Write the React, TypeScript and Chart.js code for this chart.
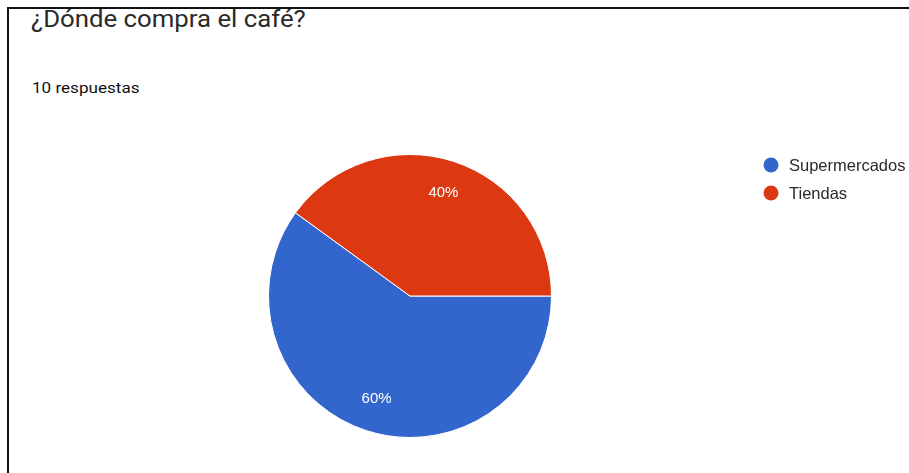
import React, { useEffect, useRef } from "react";
import { Chart, registerables } from "chart.js";

Chart.register(...registerables);

// Survey answers
const categories: string[] = ["Supermercados", "Tiendas"];
const shares: number[] = [60, 40];
const sliceColors: string[] = ["#3366cc", "#dc3912"];
const question = "¿Dónde compra el café?";
const responseCount = "10 respuestas";

const WIDTH = 909;
const HEIGHT = 473;

// Percent labels placed inside each slice
const sliceLabels = {
  id: "sliceLabels",
  afterDatasetsDraw(chart: any) {
    const ctx = chart.ctx;
    const meta = chart.getDatasetMeta(0);
    const values: number[] = chart.data.datasets[0].data;
    const total = values.reduce((a, b) => a + b, 0);
    ctx.save();
    ctx.fillStyle = "#ffffff";
    ctx.font = "15px 'Liberation Sans', Arial, sans-serif";
    ctx.textAlign = "center";
    ctx.textBaseline = "middle";
    meta.data.forEach((arc: any, i: number) => {
      const { x, y, startAngle, endAngle, outerRadius } = arc.getProps(
        ["x", "y", "startAngle", "endAngle", "outerRadius"],
        true
      );
      const mid = (startAngle + endAngle) / 2;
      const r = outerRadius * 0.765;
      const pct = Math.round((values[i] / total) * 100) + "%";
      ctx.fillText(pct, x + Math.cos(mid) * r, y + Math.sin(mid) * r);
    });
    ctx.restore();
  },
};

// Legend on the right with round markers
const sideLegend = {
  id: "sideLegend",
  afterDraw(chart: any) {
    const ctx = chart.ctx;
    const colors: string[] = chart.data.datasets[0].backgroundColor;
    ctx.save();
    ctx.font = "16.5px 'Liberation Sans', Arial, sans-serif";
    ctx.textBaseline = "middle";
    ctx.textAlign = "left";
    (chart.data.labels as string[]).forEach((label, i) => {
      const cy = 165 + i * 28;
      ctx.fillStyle = colors[i];
      ctx.beginPath();
      ctx.arc(771, cy, 7.5, 0, Math.PI * 2);
      ctx.fill();
      ctx.fillStyle = "#2a2a2a";
      ctx.fillText(label, 789, cy + 1);
    });
    ctx.restore();
  },
};

export default function App() {
  const canvasRef = useRef<HTMLCanvasElement | null>(null);

  useEffect(() => {
    document.body.style.margin = "0";
    const canvas = canvasRef.current;
    if (!canvas) return;
    const chart = new Chart(canvas, {
      type: "pie",
      data: {
        labels: categories,
        datasets: [
          {
            data: shares,
            backgroundColor: sliceColors,
            borderColor: "#ffffff",
            borderWidth: 1,
            hoverOffset: 0,
          },
        ],
      },
      options: {
        responsive: false,
        animation: false,
        devicePixelRatio: 1,
        rotation: 90,
        layout: { padding: { left: 268, right: 357, top: 154, bottom: 35 } },
        events: [],
        plugins: {
          legend: { display: false },
          tooltip: { enabled: false },
          title: { display: false },
        },
      },
      plugins: [sliceLabels, sideLegend],
    });
    return () => chart.destroy();
  }, []);

  return (
    <div
      style={{
        position: "absolute",
        left: 0,
        top: 0,
        width: WIDTH,
        height: HEIGHT,
        overflow: "hidden",
        background: "#ffffff",
      }}
    >
      <div
        style={{
          position: "absolute",
          left: 7,
          top: 7,
          width: WIDTH,
          height: HEIGHT,
          borderTop: "2px solid #111",
          borderLeft: "2px solid #111",
        }}
      />
      <div
        style={{
          position: "absolute",
          left: 31,
          top: 6,
          fontFamily: "Roboto, Arial, sans-serif",
          fontSize: 23,
          lineHeight: "27px",
          color: "#2a2a2a",
          whiteSpace: "nowrap",
          transform: "scaleX(1.12)",
          transformOrigin: "left top",
        }}
      >
        {question}
      </div>
      <div
        style={{
          position: "absolute",
          left: 32,
          top: 79,
          fontFamily: "Roboto, Arial, sans-serif",
          fontSize: 14,
          lineHeight: "18px",
          color: "#111111",
          whiteSpace: "nowrap",
          transform: "scaleX(1.22)",
          transformOrigin: "left top",
        }}
      >
        {responseCount}
      </div>
      <canvas
        ref={canvasRef}
        width={WIDTH}
        height={HEIGHT}
        style={{ position: "absolute", left: 0, top: 0 }}
      />
    </div>
  );
}
